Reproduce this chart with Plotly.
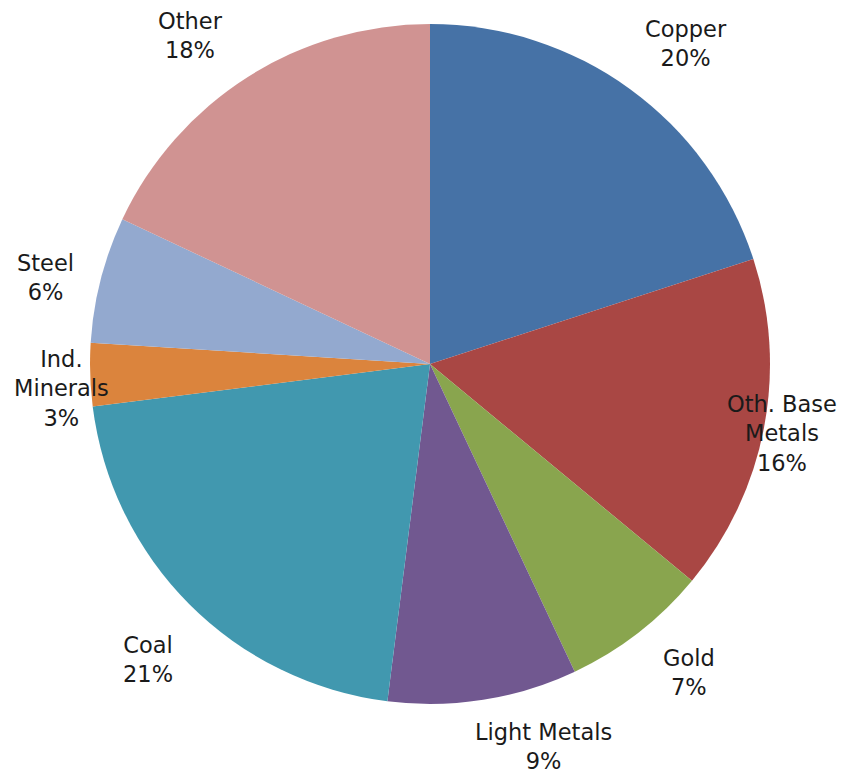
import plotly.graph_objects as go

# Share of spending by commodity (%)
commodities = ["Copper", "Oth. Base Metals", "Gold", "Light Metals", "Coal",
               "Ind. Minerals", "Steel", "Other"]
shares = [20, 16, 7, 9, 21, 3, 6, 18]
label_text = ["Copper", "Oth. Base<br>Metals", "Gold", "Light Metals", "Coal",
              "Ind.<br>Minerals", "Steel", "Other"]

colors = ["#4672A6", "#A94744", "#89A54E", "#715890", "#4198AF",
          "#DB843D", "#93A9CF", "#D09392"]

W, H = 844, 774
# pie bounding box in pixels (left, top, right, bottom)
left, top, right, bottom = 90, 24, 770, 704

fig = go.Figure(go.Pie(
    labels=commodities,
    values=shares,
    sort=False,
    direction="clockwise",
    rotation=0,
    marker=dict(colors=colors, line=dict(width=0)),
    textinfo="none",
    hoverinfo="label+percent",
    showlegend=False,
    domain=dict(x=[left / W, right / W], y=[1 - bottom / H, 1 - top / H]),
))

# label anchor points (pixels) for each slice's caption
label_pos = [(686, 44), (782, 433), (689, 672), (543, 746),
             (148, 659), (62, 388), (45, 277), (190, 36)]

for txt, v, (px, py) in zip(label_text, shares, label_pos):
    fig.add_annotation(
        x=px / W, y=1 - py / H, xref="paper", yref="paper",
        text=f"{txt}<br>{v}%", showarrow=False,
        xanchor="center", yanchor="middle", align="center",
        font=dict(family="DejaVu Sans, Verdana, sans-serif", size=22.5, color="#1a1a1a"),
    )

fig.update_layout(
    width=W, height=H,
    margin=dict(l=0, r=0, t=0, b=0),
    paper_bgcolor="white",
    plot_bgcolor="white",
)

fig.write_html("out.html")
